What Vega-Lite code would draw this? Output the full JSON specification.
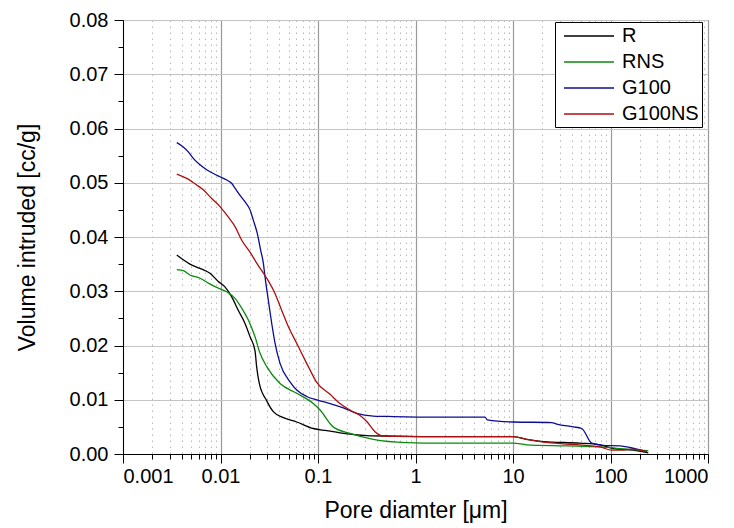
{
  "$schema": "https://vega.github.io/schema/vega-lite/v6.json",
  "width": 585,
  "height": 434,
  "autosize": {"type": "none"},
  "padding": {"left": 123, "top": 20, "right": 26, "bottom": 74},
  "background": "white",
  "config": {
    "view": {"stroke": "black", "strokeWidth": 1},
    "font": "Liberation Sans",
    "axis": {"labelFont": "Liberation Sans", "titleFont": "Liberation Sans", "labelColor": "black", "titleColor": "black", "titleFontWeight": "normal", "domainColor": "black", "tickColor": "black"}
  },
  "data": {"values": [
    {"s":"R","d":0.00356,"v":0.0367},{"s":"R","d":0.00415,"v":0.0358},{"s":"R","d":0.00486,"v":0.0350},{"s":"R","d":0.00616,"v":0.0342},{"s":"R","d":0.0078,"v":0.0333},{"s":"R","d":0.00949,"v":0.0318},{"s":"R","d":0.0111,"v":0.0308},{"s":"R","d":0.013,"v":0.0290},{"s":"R","d":0.0152,"v":0.0265},{"s":"R","d":0.0178,"v":0.0241},{"s":"R","d":0.0201,"v":0.0216},{"s":"R","d":0.0226,"v":0.0190},{"s":"R","d":0.0235,"v":0.0160},{"s":"R","d":0.025,"v":0.0130},{"s":"R","d":0.0298,"v":0.0098},{"s":"R","d":0.0348,"v":0.0078},{"s":"R","d":0.0441,"v":0.0067},{"s":"R","d":0.0605,"v":0.0059},{"s":"R","d":0.0895,"v":0.0047},{"s":"R","d":0.123,"v":0.0043},{"s":"R","d":0.168,"v":0.0039},{"s":"R","d":0.316,"v":0.0034},{"s":"R","d":0.592,"v":0.0033},{"s":"R","d":1.78,"v":0.0032},{"s":"R","d":10.07,"v":0.0032},{"s":"R","d":13.8,"v":0.0027},{"s":"R","d":20.5,"v":0.0023},{"s":"R","d":48.6,"v":0.0020},{"s":"R","d":78,"v":0.0017},{"s":"R","d":107,"v":0.0010},{"s":"R","d":171,"v":0.0007},{"s":"R","d":244,"v":0.0002},
    {"s":"RNS","d":0.00356,"v":0.0340},{"s":"RNS","d":0.00415,"v":0.0338},{"s":"RNS","d":0.00486,"v":0.0330},{"s":"RNS","d":0.00616,"v":0.0324},{"s":"RNS","d":0.0075,"v":0.0315},{"s":"RNS","d":0.00914,"v":0.0307},{"s":"RNS","d":0.0116,"v":0.0299},{"s":"RNS","d":0.0141,"v":0.0287},{"s":"RNS","d":0.0165,"v":0.0269},{"s":"RNS","d":0.0193,"v":0.0247},{"s":"RNS","d":0.0226,"v":0.0216},{"s":"RNS","d":0.0254,"v":0.0186},{"s":"RNS","d":0.0298,"v":0.0161},{"s":"RNS","d":0.0408,"v":0.0130},{"s":"RNS","d":0.0605,"v":0.0112},{"s":"RNS","d":0.0895,"v":0.0093},{"s":"RNS","d":0.105,"v":0.0081},{"s":"RNS","d":0.143,"v":0.0050},{"s":"RNS","d":0.213,"v":0.0038},{"s":"RNS","d":0.369,"v":0.0027},{"s":"RNS","d":0.81,"v":0.0021},{"s":"RNS","d":1.78,"v":0.0020},{"s":"RNS","d":10.07,"v":0.0020},{"s":"RNS","d":13.8,"v":0.0017},{"s":"RNS","d":35.5,"v":0.0015},{"s":"RNS","d":78,"v":0.0013},{"s":"RNS","d":147,"v":0.0009},{"s":"RNS","d":244,"v":0.0006},
    {"s":"G100","d":0.00356,"v":0.0574},{"s":"G100","d":0.00415,"v":0.0566},{"s":"G100","d":0.00467,"v":0.0557},{"s":"G100","d":0.00526,"v":0.0545},{"s":"G100","d":0.00616,"v":0.0533},{"s":"G100","d":0.00722,"v":0.0524},{"s":"G100","d":0.00844,"v":0.0517},{"s":"G100","d":0.00988,"v":0.0511},{"s":"G100","d":0.0116,"v":0.0505},{"s":"G100","d":0.013,"v":0.0499},{"s":"G100","d":0.0141,"v":0.0490},{"s":"G100","d":0.0158,"v":0.0477},{"s":"G100","d":0.0178,"v":0.0465},{"s":"G100","d":0.0201,"v":0.0450},{"s":"G100","d":0.0217,"v":0.0431},{"s":"G100","d":0.0238,"v":0.0407},{"s":"G100","d":0.0258,"v":0.0376},{"s":"G100","d":0.0275,"v":0.0352},{"s":"G100","d":0.0286,"v":0.0327},{"s":"G100","d":0.0309,"v":0.0284},{"s":"G100","d":0.0335,"v":0.0241},{"s":"G100","d":0.0362,"v":0.0205},{"s":"G100","d":0.0408,"v":0.0167},{"s":"G100","d":0.0516,"v":0.0133},{"s":"G100","d":0.0605,"v":0.0118},{"s":"G100","d":0.0766,"v":0.0106},{"s":"G100","d":0.1007,"v":0.0099},{"s":"G100","d":0.133,"v":0.0093},{"s":"G100","d":0.182,"v":0.0085},{"s":"G100","d":0.249,"v":0.0075},{"s":"G100","d":0.369,"v":0.0070},{"s":"G100","d":0.592,"v":0.0069},{"s":"G100","d":1.78,"v":0.0068},{"s":"G100","d":5.16,"v":0.0068},{"s":"G100","d":5.45,"v":0.0063},{"s":"G100","d":10.07,"v":0.0059},{"s":"G100","d":24.9,"v":0.0058},{"s":"G100","d":28.1,"v":0.0055},{"s":"G100","d":41.5,"v":0.0050},{"s":"G100","d":50.7,"v":0.0047},{"s":"G100","d":64.1,"v":0.0020},{"s":"G100","d":84.4,"v":0.0016},{"s":"G100","d":125,"v":0.0015},{"s":"G100","d":158,"v":0.0012},{"s":"G100","d":235,"v":0.0004},
    {"s":"G100NS","d":0.00356,"v":0.0516},{"s":"G100NS","d":0.0045,"v":0.0508},{"s":"G100NS","d":0.0057,"v":0.0496},{"s":"G100NS","d":0.00666,"v":0.0487},{"s":"G100NS","d":0.00812,"v":0.0471},{"s":"G100NS","d":0.00988,"v":0.0456},{"s":"G100NS","d":0.012,"v":0.0437},{"s":"G100NS","d":0.0141,"v":0.0419},{"s":"G100NS","d":0.0165,"v":0.0394},{"s":"G100NS","d":0.0201,"v":0.0372},{"s":"G100NS","d":0.0235,"v":0.0352},{"s":"G100NS","d":0.0298,"v":0.0324},{"s":"G100NS","d":0.0362,"v":0.0296},{"s":"G100NS","d":0.0424,"v":0.0265},{"s":"G100NS","d":0.0496,"v":0.0235},{"s":"G100NS","d":0.0605,"v":0.0204},{"s":"G100NS","d":0.0736,"v":0.0173},{"s":"G100NS","d":0.0828,"v":0.0155},{"s":"G100NS","d":0.0962,"v":0.0133},{"s":"G100NS","d":0.133,"v":0.0110},{"s":"G100NS","d":0.168,"v":0.0093},{"s":"G100NS","d":0.213,"v":0.0081},{"s":"G100NS","d":0.27,"v":0.0071},{"s":"G100NS","d":0.316,"v":0.0060},{"s":"G100NS","d":0.384,"v":0.0041},{"s":"G100NS","d":0.468,"v":0.0033},{"s":"G100NS","d":1.78,"v":0.0032},{"s":"G100NS","d":10.07,"v":0.0032},{"s":"G100NS","d":13.8,"v":0.0027},{"s":"G100NS","d":20.5,"v":0.0022},{"s":"G100NS","d":38.4,"v":0.0018},{"s":"G100NS","d":78,"v":0.0013},{"s":"G100NS","d":103,"v":0.0007},{"s":"G100NS","d":125,"v":0.0007},{"s":"G100NS","d":171,"v":0.0009},{"s":"G100NS","d":235,"v":0.0004}
  ]},
  "layer": [
    {
      "mark": {"type": "line", "strokeOpacity": 0},
      "encoding": {
        "x": {"field": "d", "type": "quantitative", "scale": {"type": "log", "domain": [0.001, 1000]},
          "axis": {"orient": "bottom", "values": [0.002,0.003,0.004,0.005,0.006,0.007,0.008,0.009,0.02,0.03,0.04,0.05,0.06,0.07,0.08,0.09,0.2,0.3,0.4,0.5,0.6,0.7,0.8,0.9,2,3,4,5,6,7,8,9,20,30,40,50,60,70,80,90,200,300,400,500,600,700,800,900],
            "labels": false, "domain": false, "title": null, "tickSize": 5, "grid": true, "gridColor": "#b8b8b8", "gridDash": [1.5, 4.5], "gridWidth": 1}},
        "y": {"field": "v", "type": "quantitative", "scale": {"domain": [0, 0.08]},
          "axis": {"orient": "left", "values": [0.005,0.015,0.025,0.035,0.045,0.055,0.065,0.075], "labels": false, "domain": false, "title": null, "tickSize": 5, "grid": false}},
        "detail": {"field": "s"}
      }
    },
    {
      "mark": {"type": "line", "strokeWidth": 1.3, "interpolate": "monotone"},
      "encoding": {
        "x": {"field": "d", "type": "quantitative", "scale": {"type": "log", "domain": [0.001, 1000]},
          "axis": {"orient": "bottom", "values": [0.001,0.01,0.1,1,10,100,1000], "format": "~g", "tickSize": 9, "labelFontSize": 20, "labelPadding": 3, "grid": true, "gridColor": "#999999", "gridWidth": 1.2,
            "title": "Pore diamter [μm]", "titleFontSize": 23, "titlePadding": 13}},
        "y": {"field": "v", "type": "quantitative", "scale": {"domain": [0, 0.08]},
          "axis": {"orient": "left", "values": [0,0.01,0.02,0.03,0.04,0.05,0.06,0.07,0.08], "format": ".2f", "tickSize": 9, "labelFontSize": 20, "labelPadding": 6, "grid": true, "gridColor": "#c4c4c4", "gridWidth": 1,
            "title": "Volume intruded [cc/g]", "titleFontSize": 23, "titlePadding": 30}},
        "color": {"field": "s", "type": "nominal",
          "scale": {"domain": ["R", "RNS", "G100", "G100NS"], "range": ["#000000", "#0a8a0a", "#0c0c96", "#ad0f0f"]},
          "legend": {"orient": "none", "legendX": 432, "legendY": 2, "title": null, "strokeColor": "black", "fillColor": "white", "padding": 3,
            "symbolType": "M-0.5,0H4.5", "symbolSize": 400, "symbolStrokeWidth": 1.3, "symbolFillColor": "transparent", "labelFontSize": 20, "labelOffset": 42, "rowPadding": 5}}
      }
    }
  ],
  "resolve": {"axis": {"x": "independent", "y": "independent"}}
}
